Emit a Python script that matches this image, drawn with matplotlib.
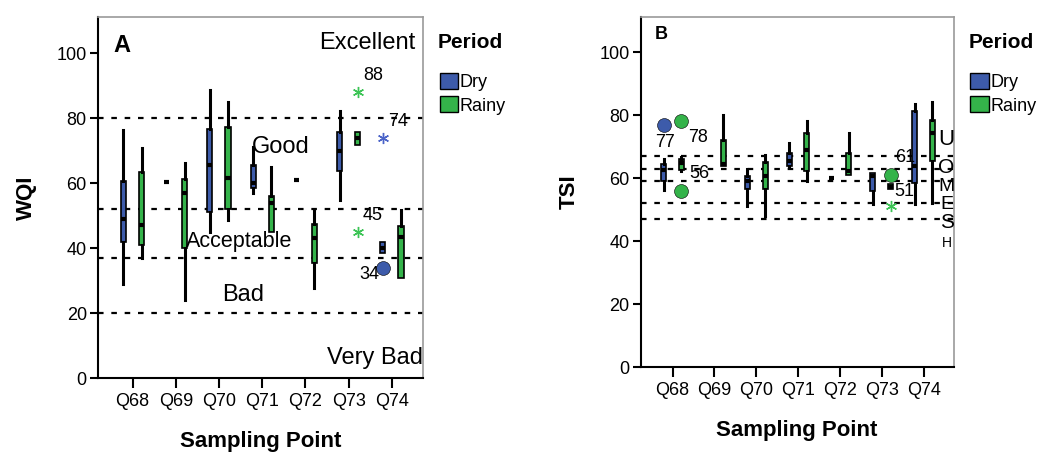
import matplotlib
matplotlib.use("Agg")
import matplotlib.pyplot as plt
from matplotlib.patches import Patch

plt.rcParams['font.family'] = ['Liberation Sans', 'DejaVu Sans']

# ----------------------------
# Data
# ----------------------------

points = ["Q68", "Q69", "Q70", "Q71", "Q72", "Q73", "Q74"]

# box stats: (whislo, q1, med, q3, whishi), None = no data
wqi_dry = [
    (29.0, 42.0, 48.9, 60.8, 76.3),
    (60.5, 60.5, 60.5, 60.5, 60.5),
    (45.0, 51.0, 65.5, 76.8, 88.7),
    (57.0, 58.4, 60.0, 65.6, 71.2),
    (61.0, 61.0, 61.0, 61.0, 61.0),
    (54.8, 63.8, 70.0, 75.9, 82.3),
    (38.6, 38.6, 40.2, 42.0, 42.0),
]
wqi_rainy = [
    (37.0, 41.0, 47.1, 63.4, 70.9),
    (24.0, 40.0, 57.1, 61.3, 66.2),
    (48.7, 52.0, 61.6, 77.4, 85.1),
    (45.0, 45.0, 53.9, 56.0, 65.1),
    (27.7, 35.5, 43.1, 47.4, 51.7),
    (71.8, 71.8, 74.0, 75.9, 75.9),
    (30.8, 30.8, 43.3, 46.8, 51.7),
]
# outliers: (point index, period, value, marker)
wqi_out = [(5, "Rainy", 88, "*"), (5, "Rainy", 45, "*"),
           (6, "Dry", 74, "*"), (6, "Dry", 34, "o")]
wqi_limits = [80, 52, 37, 20]

tsi_dry = [
    (56.1, 59.0, 62.5, 64.6, 66.1),
    None,
    (51.3, 56.4, 59.0, 60.6, 63.0),
    (63.6, 63.8, 65.4, 68.0, 71.2),
    (60.1, 60.1, 60.1, 60.1, 60.1),
    (51.9, 55.8, 60.6, 61.7, 61.7),
    (51.9, 58.5, 63.8, 81.3, 83.4),
]
tsi_rainy = [
    (62.3, 62.5, 64.8, 66.1, 66.7),
    (63.7, 63.7, 64.5, 72.0, 80.2),
    (47.9, 56.4, 60.6, 65.0, 67.2),
    (59.0, 62.2, 69.1, 74.4, 78.1),
    (61.1, 61.1, 62.2, 68.0, 74.4),
    (56.4, 56.4, 57.2, 58.0, 58.0),
    (52.0, 65.4, 74.2, 78.4, 84.2),
]
tsi_out = [(0, "Dry", 77, "o"), (0, "Rainy", 78, "o"), (0, "Rainy", 56, "o"),
           (5, "Rainy", 61, "o"), (5, "Rainy", 51, "*")]
tsi_limits = [67, 63, 59, 52, 47]

colors = {"Dry": "#3D5BAA", "Rainy": "#34B34A"}
star_colors = {"Dry": "#4A63C8", "Rainy": "#3CC455"}
offset = {"Dry": -0.21, "Rainy": 0.21}


def draw_boxes(ax, dry, rainy, outliers, limits):
    for lim in limits:
        ax.axhline(lim, color="black", lw=1.6, ls=(0, (2.5, 3.5)), zorder=1)
    for period, data in (("Dry", dry), ("Rainy", rainy)):
        stats, pos = [], []
        for i, s in enumerate(data):
            if s is None:
                continue
            stats.append(dict(whislo=s[0], q1=s[1], med=s[2], q3=s[3],
                              whishi=s[4], fliers=[]))
            pos.append(i + 1 + offset[period])
        bp = ax.bxp(stats, positions=pos, widths=0.12, patch_artist=True,
                    showcaps=False, showfliers=False, manage_ticks=False,
                    boxprops=dict(edgecolor="black", linewidth=1.2),
                    whiskerprops=dict(color="black", linewidth=2.2),
                    medianprops=dict(color="black", linewidth=3),
                    zorder=2)
        for b in bp["boxes"]:
            b.set_facecolor(colors[period])
    for i, period, v, m in outliers:
        x = i + 1 + offset[period]
        if m == "o":
            ax.plot(x, v, "o", ms=10, mfc=colors[period], mec="black",
                    mew=0.4, zorder=3)
        else:
            ax.plot(x, v, marker=(6, 2, 0), ms=8, color=star_colors[period],
                    mew=1.0, ls="none", zorder=3)


def style_axes(ax, ylabel):
    ax.set_ylim(0, 111.2)
    ax.set_xlim(0.2, 7.72)
    ax.set_xticks(range(1, 8))
    ax.set_xticklabels(points)
    ax.set_yticks([0, 20, 40, 60, 80, 100])
    ax.tick_params(axis="y", direction="out", length=6, width=1.5,
                   labelsize=13, pad=2)
    ax.tick_params(axis="x", direction="out", length=7, width=1.5,
                   labelsize=13, pad=4)
    for s in ["left", "bottom"]:
        ax.spines[s].set_linewidth(1.5)
    for s in ["top", "right"]:
        ax.spines[s].set_color("#9A9A9A")
        ax.spines[s].set_linewidth(1.2)
    ax.set_ylabel(ylabel, fontsize=16, fontweight="bold", labelpad=14)
    ax.set_xlabel("Sampling Point", fontsize=16, fontweight="bold", labelpad=15)


fig = plt.figure(figsize=(10.4, 4.54), dpi=100)

# ----------------------------
# A: WQI
# ----------------------------

axA = fig.add_axes([0.0942, 0.1674, 0.3125, 0.795])
draw_boxes(axA, wqi_dry, wqi_rainy, wqi_out, wqi_limits)
style_axes(axA, "WQI")

axA.text(0.55, 102.5, "A", fontsize=17, fontweight="bold", va="center")
axA.text(7.55, 103.2, "Excellent", fontsize=17, ha="right", va="center")
axA.text(4.43, 71.1, "Good", fontsize=17, ha="center", va="center")
axA.text(3.47, 42.2, "Acceptable", fontsize=15.5, ha="center", va="center")
axA.text(3.55, 25.6, "Bad", fontsize=17, ha="center", va="center")
axA.text(7.72, 6.2, "Very Bad", fontsize=17, ha="right", va="center")

for x, y, t in [(6.56, 93.3, "88"), (7.14, 79.0, "74"),
                (6.56, 50.2, "45"), (6.47, 32.0, "34")]:
    axA.text(x, y, t, fontsize=13, ha="center", va="center")

# ----------------------------
# B: TSI
# ----------------------------

axB = fig.add_axes([0.616, 0.1916, 0.301, 0.771])
draw_boxes(axB, tsi_dry, tsi_rainy, tsi_out, tsi_limits)
style_axes(axB, "TSI")
axB.set_xlim(0.235, 7.72)

axB.text(0.57, 105.5, "B", fontsize=13, fontweight="bold", va="center")
for x, y, t in [(0.81, 71.3, "77"), (1.6, 72.9, "78"), (1.65, 61.4, "56"),
                (6.55, 66.5, "61"), (6.55, 55.8, "51")]:
    axB.text(x, y, t, fontsize=13, ha="center", va="center")

for y, t, fs in [(72.2, "U", 16), (63.3, "O", 15), (57.4, "M", 14),
                 (51.6, "E", 14), (45.9, "S", 15), (39.5, "H", 10)]:
    axB.text(7.55, y, t, fontsize=fs, ha="center", va="center")

# ----------------------------
# Legends
# ----------------------------

handles = [Patch(facecolor=colors["Dry"], edgecolor="black", label="Dry"),
           Patch(facecolor=colors["Rainy"], edgecolor="black", label="Rainy")]
for xl in (0.421, 0.931):
    fig.text(xl, 1 - 42 / 454, "Period", fontsize=15, fontweight="bold",
             ha="left", va="center")
    fig.legend(handles=handles, loc="upper left",
               bbox_to_anchor=(xl - 0.01, 1 - 60 / 454), frameon=False,
               fontsize=13, handlelength=1.0, handleheight=1.0,
               handletextpad=0.1, labelspacing=0.3, borderpad=0.2)

fig.savefig("out.png", dpi=100)
